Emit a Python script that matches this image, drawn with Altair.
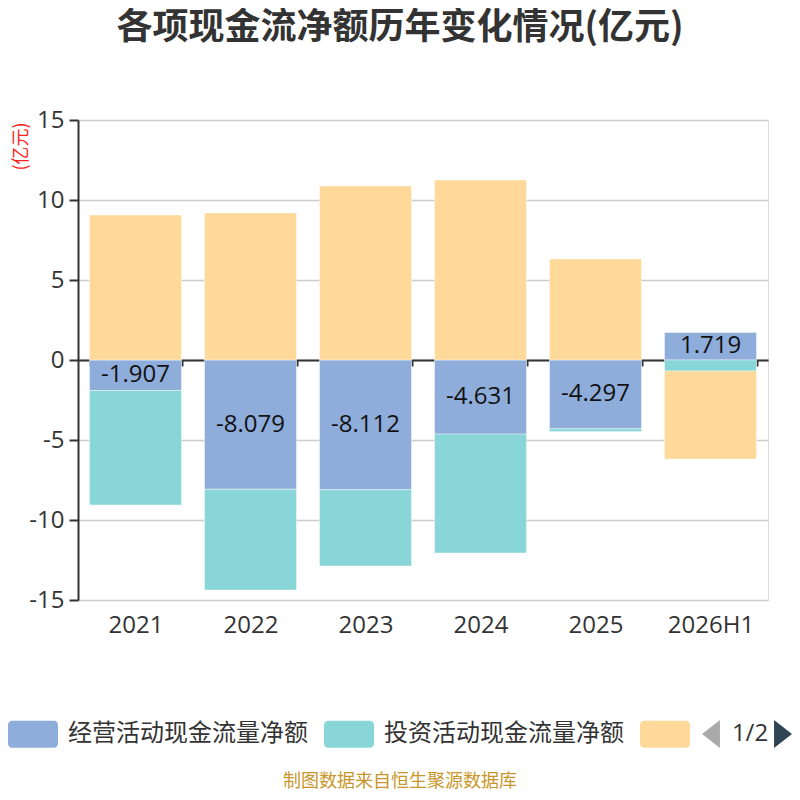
import altair as alt
import pandas as pd

years = ["2021", "2022", "2023", "2024", "2025", "2026H1"]
series = ["经营活动现金流量净额", "投资活动现金流量净额", "筹资活动现金流量净额"]
operating = [-1.907, -8.079, -8.112, -4.631, -4.297, 1.719]
investing = [-7.15, -6.30, -4.76, -7.43, -0.17, -0.69]
financing = [9.06, 9.19, 10.88, 11.25, 6.31, -5.50]
colors = ["#8FADDB", "#88D6D8", "#FFD99A"]
y_ticks = [-15, -10, -5, 0, 5, 10, 15]

FONT = "'Open Sans', 'Noto Sans CJK SC', sans-serif"
CJK = "'Noto Sans CJK SC', sans-serif"

rows = []
for i, yr in enumerate(years):
    for k, (name, vals) in enumerate(zip(series, [operating, investing, financing])):
        rows.append({"year": yr, "series": name, "value": vals[i], "order": k})
df = pd.DataFrame(rows)
lab = pd.DataFrame({"year": years, "value": operating,
                    "txt": [f"{v:.3f}" for v in operating]})

SYM = ("M-0.84,-0.54H0.84A0.16,0.16,0,0,1,1,-0.38V0.38A0.16,0.16,0,0,1,0.84,0.54"
       "H-0.84A0.16,0.16,0,0,1,-1,0.38V-0.38A0.16,0.16,0,0,1,-0.84,-0.54Z")

xscale = alt.Scale(domain=years, paddingInner=0.2, paddingOuter=0.1)
yscale = alt.Scale(domain=[-15, 15], nice=False)

xaxis = alt.Axis(title=None, orient="bottom", offset=-240, domain=True, domainColor="#333333",
                 domainWidth=2, ticks=True, tickBand="extent", tickColor="#333333", tickSize=6,
                 tickWidth=2, labelPadding=247, labelFontSize=24, labelColor="#333333",
                 labelAngle=0, grid=False, labelFont=FONT)
yaxis = alt.Axis(title="(亿元)", titleColor="#FF2020", titleFontSize=18, titleFontWeight="normal",
                 titleFont=CJK, titleAngle=270, titleX=-57, titleY=26, titleAlign="center",
                 titleBaseline="middle", values=y_ticks, domain=True,
                 labelExpr="replace(toString(datum.value), '\u2212', '-')",
                 domainColor="#333333", domainWidth=2, ticks=True, tickColor="#333333",
                 tickSize=9, tickWidth=2, labelFontSize=24, labelColor="#333333", labelPadding=5,
                 labelFont=FONT, grid=True, gridColor="#CCCCCC", gridWidth=1.5)

bars = alt.Chart(df).mark_bar(stroke="white", strokeWidth=0.6, strokeOpacity=0.7).encode(
    x=alt.X("year:N", scale=xscale, axis=xaxis, sort=years),
    y=alt.Y("value:Q", scale=yscale, axis=yaxis, stack="zero"),
    color=alt.Color("series:N", scale=alt.Scale(domain=series, range=colors),
                    legend=alt.Legend(title=None, orient="none", direction="horizontal",
                                      legendX=-70, legendY=589, symbolType=SYM, symbolSize=2500,
                                      symbolStrokeWidth=0, symbolOpacity=1, labelFontSize=24,
                                      labelColor="#333333", labelFont=CJK, labelOffset=10,
                                      columnPadding=16, labelLimit=400,
                                      labelExpr="datum.index == 2 ? '' : datum.label")),
    order=alt.Order("order:Q"),
)

labels = alt.Chart(lab).transform_calculate(mid="datum.value / 2").mark_text(
    fontSize=24, color="#111111", font=FONT, baseline="middle", align="center"
).encode(
    x=alt.X("year:N", scale=xscale, sort=years),
    y=alt.Y("mid:Q", scale=yscale),
    text=alt.Text("txt:N"),
)

pager = alt.Chart(pd.DataFrame({"t": ["1/2"]})).mark_text(
    fontSize=24, color="#333333", font=FONT, baseline="middle", align="center"
).encode(text="t:N", x=alt.value(672), y=alt.value(614))

left_arrow = alt.Chart(pd.DataFrame({"a": [0]})).mark_point(
    shape="M0.64,-1L-0.64,0L0.64,1Z", size=784, filled=True, color="#AAAAAA", opacity=1
).encode(x=alt.value(633), y=alt.value(614))

right_arrow = alt.Chart(pd.DataFrame({"a": [0]})).mark_point(
    shape="M-0.64,-1L0.64,0L-0.64,1Z", size=784, filled=True, color="#2F4554", opacity=1
).encode(x=alt.value(705), y=alt.value(614))

foot = alt.Chart(pd.DataFrame({"t": ["制图数据来自恒生聚源数据库"]})).mark_text(
    fontSize=18, color="#C8962A", font=CJK, baseline="middle", align="center"
).encode(text="t:N", x=alt.value(322), y=alt.value(662))

chart = alt.layer(bars, labels, pager, left_arrow, right_arrow, foot).properties(
    width=690, height=480,
    autosize=alt.AutoSizeParams(type="none"),
    padding={"left": 70, "top": 112, "right": 24, "bottom": 192},
    title=alt.TitleParams(text="各项现金流净额历年变化情况(亿元)", fontSize=36, fontWeight="bold",
                          color="#333333", font=CJK, anchor="middle", dx=-23, offset=61),
).configure_view(stroke=None).configure(background="white")

chart.save("out.html", embed_options={"renderer": "svg", "actions": False})
